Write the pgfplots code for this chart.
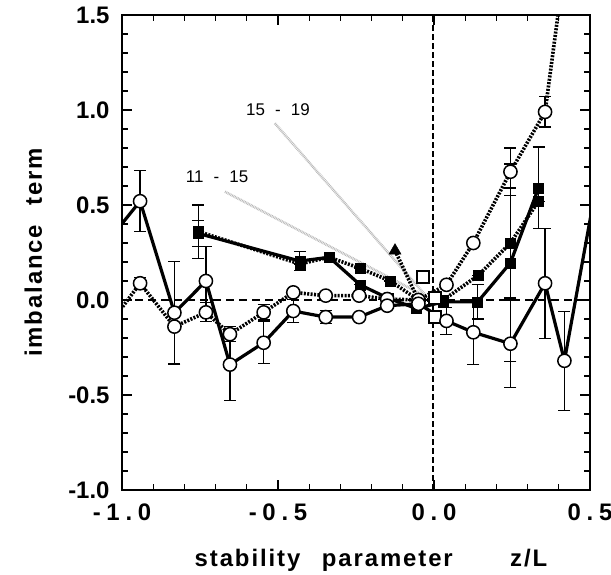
\documentclass[border=0pt]{standalone}
\usepackage{fontspec}
\setmainfont{Liberation Sans}
\usepackage{pgfplots}
\pgfplotsset{compat=1.18}
\pgfplotsset{
 solidl/.style={black, line width=3.2bp, solid, no markers},
 dotl/.style={black, line width=3.6bp, dash pattern=on 2bp off 1.4bp, no markers},
 ocirc/.style={black, only marks, mark=*, mark size=6.6bp, mark options={fill=white, draw=black, line width=1.5bp, solid}},
 fsq/.style={black, only marks, mark=square*, mark size=5bp, mark options={fill=black, draw=black, solid}},
 ebars/.style={error bars/.cd, y dir=both, y explicit, error mark options={rotate=90, mark size=6bp, line width=1.3bp, black, solid}, error bar style={line width=1.3bp, black, solid}},
}
\begin{document}
\begin{tikzpicture}
\useasboundingbox (0,0) rectangle (611bp,575bp);
\begin{axis}[
  at={(122bp,85bp)}, anchor=south west,
  scale only axis, width=468bp, height=475bp,
  xmin=-1, xmax=0.5, ymin=-1, ymax=1.5,
  xtick={-1,-0.5,0,0.5}, xticklabels={-1.0,-0.5,0.0,0.5},
  ytick={-1,-0.5,0,0.5,1,1.5}, yticklabels={-1.0,-0.5,0.0,0.5,1.0,1.5},
  minor x tick num=4, minor y tick num=4,
  tick align=inside, major tick length=10bp, minor tick length=6bp,
  tick style={line width=1.3bp, black},
  axis line style={line width=1.8bp},
  yticklabel style={font=\fontsize{24}{28}\selectfont\bfseries, xshift=-9bp},
  xticklabel style={font=\fontsize{24}{28}\selectfont\bfseries\addfontfeatures{LetterSpace=24}, yshift=-10bp},
  xlabel={stability\hspace{0.9em}parameter\hspace{2.4em}z/L},
  ylabel={imbalance\hspace{0.8em}term},
  xlabel style={at={(axis description cs:0.532,-0.162)}, anchor=base, font=\fontsize{24}{28}\selectfont\bfseries\addfontfeatures{LetterSpace=8}},
  ylabel style={at={(axis description cs:-0.171,0.5)}, anchor=base, font=\fontsize{24}{28}\selectfont\bfseries\addfontfeatures{LetterSpace=8}},
  clip=true,
]
% zero reference lines
\draw[black, line width=2bp, dash pattern=on 8bp off 5bp] (axis cs:-1,0) -- (axis cs:0.5,0);
\draw[black, line width=1.4bp, dash pattern=on 6bp off 3bp] (axis cs:-0.003,-1) -- (axis cs:-0.003,1.5);
% annotation lines
\draw[gray!55, line width=2.6bp, dash pattern=on 0.8bp off 0.8bp] (axis cs:-0.51,0.93) -- (axis cs:-0.03,0.03);
\draw[gray!55, line width=2.6bp, dash pattern=on 0.8bp off 0.8bp] (axis cs:-0.67,0.57) -- (axis cs:-0.04,0.03);
\node[font=\fontsize{17}{19}\selectfont] at (axis cs:-0.5,1.0) {15\hspace{0.6em}-\hspace{0.6em}19};
\node[font=\fontsize{17}{19}\selectfont] at (axis cs:-0.695,0.65) {11\hspace{0.6em}-\hspace{0.6em}15};

% lines
\addplot[dotl] table {
-1.05 -0.15
-0.942 0.088
-0.832 -0.14
-0.731 -0.065
-0.654 -0.18
-0.546 -0.065
-0.451 0.04
-0.347 0.023
-0.24 0.023
-0.15 0.005
-0.05 0.0
0.04 0.08
0.126 0.30
0.245 0.675
0.356 0.99
0.45 2.15
};
\addplot[dotl] table {
-0.755 0.36
-0.43 0.19
-0.336 0.225
-0.237 0.167
-0.14 0.10
-0.05 0.0
0.03 0.0
0.142 0.13
0.245 0.30
0.335 0.52
};
\addplot[dotl] table {
-0.125 0.26
-0.05 0.0
};
\addplot[solidl] table {
-1.05 0.30
-0.942 0.52
-0.832 -0.067
-0.731 0.10
-0.654 -0.34
-0.546 -0.225
-0.451 -0.058
-0.347 -0.09
-0.24 -0.09
-0.15 -0.03
-0.05 -0.02
0.04 -0.11
0.126 -0.17
0.245 -0.23
0.356 0.088
0.418 -0.32
0.52 0.60
};
\addplot[solidl] table {
-0.755 0.35
-0.43 0.205
-0.336 0.225
-0.237 0.08
-0.148 0.01
-0.056 -0.045
0.03 -0.01
0.14 -0.01
0.245 0.196
0.335 0.59
};

% markers with error bars
\addplot[fsq, ebars] table[y error index=2] {
-0.755 0.36 0.14
-0.43 0.19 0
-0.336 0.225 0
-0.237 0.167 0
-0.14 0.10 0
-0.05 0.0 0
0.03 0.0 0
0.142 0.13 0
0.245 0.30 0.29
0.335 0.52 0
};
\addplot[fsq, ebars] table[y error index=2] {
-0.755 0.35 0.07
-0.43 0.205 0.05
-0.336 0.225 0
-0.237 0.08 0
-0.148 0.01 0
-0.056 -0.045 0
0.03 -0.01 0
0.14 -0.01 0.09
0.245 0.196 0.52
0.335 0.59 0.215
};
\addplot[black, only marks, mark=triangle*, mark size=7bp, mark options={fill=black, solid}] table {
-0.125 0.26
};
\addplot[black, only marks, mark=square*, mark size=6bp, mark options={fill=white, draw=black, line width=1.5bp, solid}] table {
-0.035 0.12
0.003 0.01
0.003 -0.09
};
\addplot[ocirc, ebars] table[y error index=2] {
-0.942 0.088 0.03
-0.832 -0.14 0
-0.731 -0.065 0.05
-0.654 -0.18 0.04
-0.546 -0.065 0.04
-0.451 0.04 0
-0.347 0.023 0
-0.24 0.023 0
-0.15 0.005 0
-0.05 0.0 0
0.04 0.08 0
0.126 0.30 0
0.245 0.675 0.125
0.356 0.99 0.08
};
\addplot[ocirc, ebars] table[y error index=2] {
-0.942 0.52 0.16
-0.832 -0.067 0.27
-0.731 0.10 0.18
-0.654 -0.34 0.19
-0.546 -0.225 0.11
-0.451 -0.058 0.06
-0.347 -0.09 0.035
-0.24 -0.09 0
-0.15 -0.03 0
-0.05 -0.02 0
0.04 -0.11 0.07
0.126 -0.17 0.17
0.245 -0.23 0.23
0.356 0.088 0.29
0.418 -0.32 0.26
};
\end{axis}
\end{tikzpicture}
\end{document}
